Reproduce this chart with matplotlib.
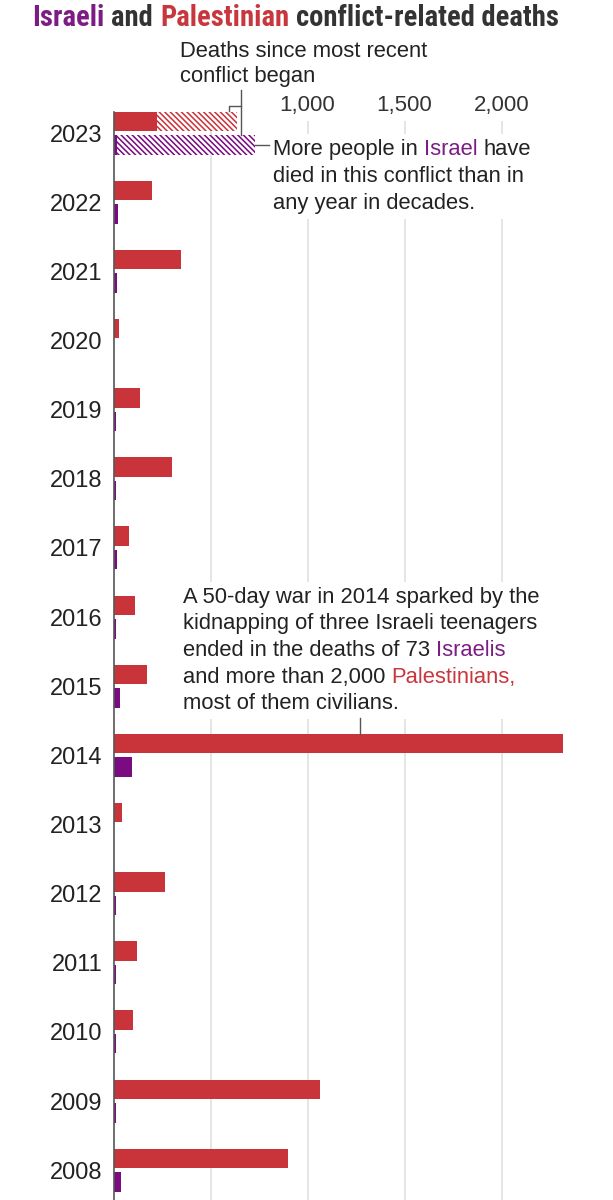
import os
import matplotlib
matplotlib.use("Agg")
import matplotlib.pyplot as plt
from matplotlib import font_manager
from matplotlib.font_manager import FontProperties
from matplotlib.patches import Rectangle
from matplotlib.transforms import Bbox
import numpy as np

# ---------------- data ----------------
years = [2023, 2022, 2021, 2020, 2019, 2018, 2017, 2016, 2015, 2014,
         2013, 2012, 2011, 2010, 2009, 2008]
palestinian_deaths = [224, 197, 348, 30, 137, 302, 80, 111, 173, 2317,
                      44, 265, 121, 100, 1064, 899]
israeli_deaths = [20, 25, 16, 4, 15, 15, 20, 15, 33, 95,
                  5, 12, 12, 12, 12, 37]
# 2023 totals including deaths since the most recent conflict began
palestinian_2023_total = 637
israeli_2023_total = 729
x_ticks = [1000, 1500, 2000]
grid_values = [500, 1000, 1500, 2000]

# ---------------- style ----------------
RED = "#c9343b"
PURPLE = "#7a0b80"
T_PURPLE = "#7c1d84"
T_RED = "#c8373d"
DARK = "#333333"
TEXT = "#222222"
GRID = "#dedede"
AXIS = "#555555"
LEAD = "#555555"
BODY = 15.8

plt.rcParams["font.family"] = ["Liberation Sans", "DejaVu Sans"]
plt.rcParams["hatch.linewidth"] = 1.7

W, H, DPI = 613, 1200, 100
fig = plt.figure(figsize=(W / DPI, H / DPI), dpi=DPI)

x0_px, px_per_unit, xmax = 113.5, 0.194, 2500
ax_top_px = 112
row_px, row0_px = 69.15, 133
ylim_top = (ax_top_px - row0_px) / row_px
ylim_bot = (H - row0_px) / row_px
ax = fig.add_axes([x0_px / W, 0, xmax * px_per_unit / W, (H - ax_top_px) / H])
ax.set_xlim(0, xmax)
ax.set_ylim(ylim_bot, ylim_top)

y = np.arange(len(years))
off, bh = 0.17, 0.282
ax.barh(y - off, palestinian_deaths, height=bh, color=RED, lw=0, zorder=2)
ax.barh(y + off, israeli_deaths, height=bh, color=PURPLE, lw=0, zorder=2)
ax.barh(y[0] - off, palestinian_2023_total - palestinian_deaths[0],
        left=palestinian_deaths[0], height=bh, facecolor=RED,
        edgecolor="white", hatch="\\\\\\\\\\\\", lw=0, zorder=2)
ax.barh(y[0] + off, israeli_2023_total - israeli_deaths[0],
        left=israeli_deaths[0], height=bh, facecolor=PURPLE,
        edgecolor="white", hatch="\\\\\\\\\\\\", lw=0, zorder=2)

ax.vlines(grid_values, ymin=(121 - row0_px) / row_px, ymax=ylim_bot,
          colors=GRID, lw=1.1, zorder=0.5)

for s in ["top", "right", "bottom"]:
    ax.spines[s].set_visible(False)
ax.spines["left"].set_color(AXIS)
ax.spines["left"].set_linewidth(1.2)
ax.spines["left"].set_zorder(3)

ax.set_yticks(y, [str(v) for v in years])
ax.tick_params(axis="y", length=0, pad=8, labelsize=17, labelcolor=TEXT)
ax.xaxis.tick_top()
ax.set_xticks(x_ticks, [f"{v:,}" for v in x_ticks])
ax.tick_params(axis="x", length=0, pad=-3, labelsize=16, labelcolor=DARK)

# ---------------- leader lines ----------------
def dy(py):
    return (py - row0_px) / row_px

x_vert = palestinian_2023_total + 20
x_drop = palestinian_2023_total - 40
ax.plot([x_vert, x_vert], [dy(90), y[0] + off - bh / 2], color=LEAD, lw=1.0,
        clip_on=False, zorder=4)
ax.plot([x_vert, x_drop, x_drop], [dy(106), dy(106), y[0] - off - bh / 2],
        color=LEAD, lw=1.0, clip_on=False, zorder=4)
ax.plot([israeli_2023_total, israeli_2023_total + 75], [y[0] + off, y[0] + off],
        color=LEAD, lw=1.0, clip_on=False, zorder=4)
ax.plot([1270, 1270], [dy(718), y[9] - off - bh / 2], color=LEAD, lw=1.0,
        clip_on=False, zorder=4)

# ---------------- rich text helper ----------------
def rich_line(x_px, base_px, parts, size, fp=None, gap_em=0.278):
    kw = dict(fontsize=size)
    if fp is not None:
        kw = dict(fontproperties=fp.copy())
        kw["fontproperties"].set_size(size)
    first_s, first_c = parts[0]
    t = ax.text(x_px / W, 1 - base_px / H, first_s.strip(), color=first_c,
                transform=fig.transFigure, ha="left", va="baseline",
                zorder=5, **kw)
    pieces = [t]
    prev, prev_s = t, first_s
    for s, c in parts[1:]:
        gap = gap_em * size if (prev_s.endswith(" ") or s.startswith(" ")) else 0
        a = ax.annotate(s.strip(), xy=(1, 0), xycoords=prev,
                        xytext=(gap, 0), textcoords="offset points",
                        ha="left", va="bottom", color=c, zorder=5, **kw)
        pieces.append(a)
        prev, prev_s = a, s
    return pieces

# title font: prefer a condensed bold face
def pick_title_font():
    prefs = ["robotocondensed-bold", "notosans-condensedbold",
             "liberationsansnarrow-bold", "opensans-condensedbold",
             "notosans-semicondensedbold", "opensans-semicondensedbold"]
    files = {os.path.basename(f.fname).lower().rsplit(".", 1)[0]: f.fname
             for f in font_manager.fontManager.ttflist}
    for p in prefs:
        if p in files:
            return FontProperties(fname=files[p])
    for name, path in files.items():
        if ("condensed" in name or "narrow" in name) and "bold" in name \
                and "italic" not in name and "extra" not in name:
            return FontProperties(fname=path)
    return FontProperties(family="Liberation Sans", weight="bold")

title_fp = pick_title_font()
title_parts = [("Israeli", T_PURPLE), (" and ", DARK), ("Palestinian", T_RED),
               (" conflict-related deaths", DARK)]
title_pieces = rich_line(32, 26, title_parts, 20, fp=title_fp, gap_em=0.24)

lines_a = [[("Deaths since most recent", TEXT)], [("conflict began", TEXT)]]
for i, parts in enumerate(lines_a):
    rich_line(180, 57 + 25 * i, parts, BODY)

lines_b = [[("More people in ", TEXT), ("Israel", T_PURPLE), (" have", TEXT)],
           [("died in this conflict than in", TEXT)],
           [("any year in decades.", TEXT)]]
pieces_b = []
for i, parts in enumerate(lines_b):
    pieces_b += rich_line(273, 155 + 27 * i, parts, BODY)

lines_c = [[("A 50-day war in 2014 sparked by the", TEXT)],
           [("kidnapping of three Israeli teenagers", TEXT)],
           [("ended in the deaths of 73 ", TEXT), ("Israelis", T_PURPLE)],
           [("and more than 2,000 ", TEXT), ("Palestinians,", T_RED)],
           [("most of them civilians.", TEXT)]]
pieces_c = []
for i, parts in enumerate(lines_c):
    pieces_c += rich_line(183, 603 + 26.5 * i, parts, BODY)

# fit title width
fig.canvas.draw()
r = fig.canvas.get_renderer()
bb = Bbox.union([p.get_window_extent(r) for p in title_pieces])
target = 557 - 32
scale = target / bb.width
for p in title_pieces:
    p.set_fontsize(20 * scale)
    if hasattr(p, "xyann"):
        p.xyann = (p.xyann[0] * scale, 0)

# white backgrounds behind annotations
fig.canvas.draw()
for pieces in (pieces_b, pieces_c):
    bb = Bbox.union([p.get_window_extent(r) for p in pieces])
    bb = Bbox.from_extents(bb.x0 - 5, bb.y0 - 5, bb.x1 + 5, bb.y1 + 5)
    d = ax.transData.inverted().transform(bb.get_points())
    ax.add_patch(Rectangle((d[0, 0], d[1, 1]), d[1, 0] - d[0, 0],
                           d[0, 1] - d[1, 1], facecolor="white",
                           edgecolor="none", zorder=1, clip_on=False))

fig.savefig("out.png", dpi=DPI)
